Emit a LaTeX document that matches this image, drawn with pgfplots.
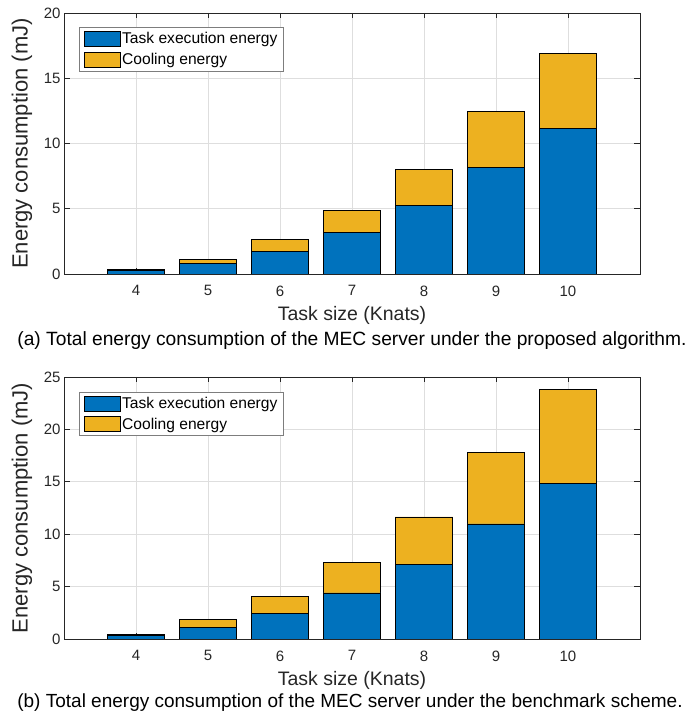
\documentclass[border=0pt]{standalone}
\usepackage{pgfplots}
\pgfplotsset{compat=1.18}
\usepackage{fontspec}
\setmainfont{Liberation Sans}
\definecolor{mblue}{rgb}{0,0.447,0.741}
\definecolor{myellow}{rgb}{0.929,0.694,0.125}
\definecolor{axgray}{rgb}{0.15,0.15,0.15}
\definecolor{gridgray}{rgb}{0.87,0.87,0.87}
\pgfplotsset{
  enbar/.style={
    scale only axis, width=576pt,
    xmin=3, xmax=11, ymin=0,
    xtick={4,5,6,7,8,9,10},
    ybar stacked, bar width=0.8,
    axis line style={axgray, line width=0.6pt},
    tick style={axgray, line width=0.6pt},
    major tick length=5.5pt,
    tick align=inside,
    grid=major, grid style={gridgray, line width=0.6pt},
    ticklabel style={font=\fontsize{15}{15}\selectfont, text=axgray},
    xticklabel style={yshift=-8pt},
    xlabel style={font=\fontsize{19.5}{19.5}\selectfont, text=axgray, anchor=center},
    ylabel style={font=\fontsize{22}{22}\selectfont, text=axgray, anchor=center, at={(axis description cs:-0.073,0.5)}},
    xlabel={Task size (Knats)}, ylabel={Energy consumption (mJ)},
    /pgf/number format/assume math mode=true,
    legend cell align=left,
    legend style={anchor=north west, draw=axgray!60, line width=0.6pt,
      font=\fontsize{15.6}{15.6}\selectfont, inner xsep=4pt, inner ysep=3.5pt,
      row sep=5pt,
      nodes={inner xsep=2pt, inner ysep=1pt}},
    legend image code/.code={\draw[#1,line width=0.6pt] (0pt,-7.5pt) rectangle (36pt,7.5pt);},
    every axis plot/.append style={draw=black, line width=0.6pt},
  }
}
\begin{document}
\begin{tikzpicture}
\path[use as bounding box] (0,0) rectangle (691pt,717pt);
\begin{axis}[enbar, at={(64pt,443pt)}, anchor=south west, height=261pt,
  ymax=20, ytick={0,5,10,15,20},
  xlabel style={at={(axis description cs:0.5,-0.16)}},
  legend style={at={(axis description cs:0.0265,0.945)}}]
\addplot[fill=mblue] coordinates {(4,0.25) (5,0.82) (6,1.76) (7,3.19) (8,5.24) (9,8.17) (10,11.14)};
\addplot[fill=myellow] coordinates {(4,0.08) (5,0.31) (6,0.90) (7,1.66) (8,2.75) (9,4.27) (10,5.74)};
\legend{Task execution energy, Cooling energy}
\end{axis}
\node[font=\fontsize{19.2}{19.2}\selectfont] at (352pt,376pt) {(a) Total energy consumption of the MEC server under the proposed algorithm.};
\begin{axis}[enbar, at={(64pt,78pt)}, anchor=south west, height=262pt,
  ymax=25, ytick={0,5,10,15,20,25},
  xlabel style={at={(axis description cs:0.5,-0.16)}},
  legend style={at={(axis description cs:0.0265,0.943)}}]
\addplot[fill=mblue] coordinates {(4,0.33) (5,1.14) (6,2.45) (7,4.39) (8,7.12) (9,10.99) (10,14.84)};
\addplot[fill=myellow] coordinates {(4,0.09) (5,0.73) (6,1.62) (7,2.89) (8,4.54) (9,6.81) (10,8.99)};
\legend{Task execution energy, Cooling energy}
\end{axis}
\node[font=\fontsize{19}{19}\selectfont] at (350pt,14pt) {(b) Total energy consumption of the MEC server under the benchmark scheme.};
\end{tikzpicture}
\end{document}
